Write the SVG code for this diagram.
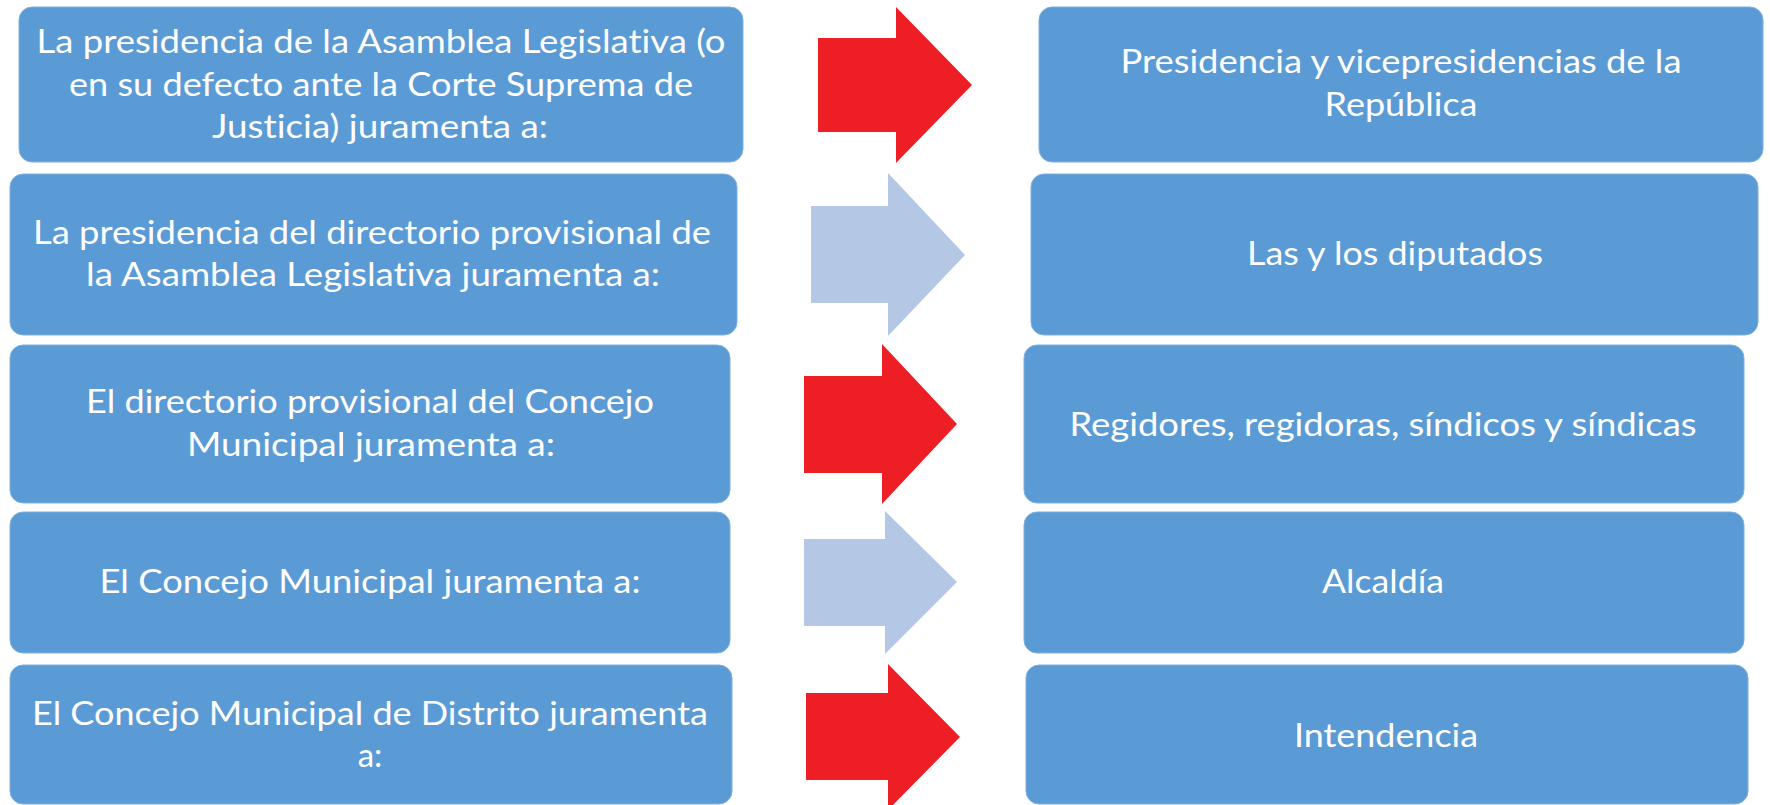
<svg xmlns="http://www.w3.org/2000/svg" width="1770" height="805" viewBox="0 0 1770 805">
<style>
.box{fill:#5B9BD5;stroke:#7FB0DE;stroke-width:1}
.t{font-family:Lato,"Open Sans","Liberation Sans",sans-serif;font-size:33px;fill:#FFFFFF;text-anchor:middle;font-variant-ligatures:none;font-feature-settings:"liga" 0}
.red{fill:#ED1F24}
.light{fill:#B4C8E6}
</style>
<rect width="1770" height="805" fill="#FFFFFF"/>
<g id="connectors">
<polygon class="red" points="818,38 896,38 896,7 972,85 896,163 896,132 818,132"/>
<polygon class="light" points="811,206 888,206 888,173 965,255 888,336 888,303 811,303"/>
<polygon class="red" points="804,376 882,376 882,344 957,424 882,504 882,473 804,473"/>
<polygon class="light" points="804,539 885,539 885,511 957,582 885,654 885,626 804,626"/>
<polygon class="red" points="806,693 888,693 888,664 960,737 888,810 888,780 806,780"/>
</g>
<g id="n1">
<rect class="box" x="19" y="7" width="724" height="155" rx="13"/>
<text class="t" x="381" y="53" textLength="689" lengthAdjust="spacingAndGlyphs">La presidencia de la Asamblea Legislativa (o</text>
<text class="t" x="381" y="96" textLength="624" lengthAdjust="spacingAndGlyphs">en su defecto ante la Corte Suprema de</text>
<text class="t" x="380" y="138" textLength="336" lengthAdjust="spacingAndGlyphs">Justicia) juramenta a:</text>
</g>
<g id="n2">
<rect class="box" x="10" y="174" width="727" height="161" rx="13"/>
<text class="t" x="372" y="244" textLength="678" lengthAdjust="spacingAndGlyphs">La presidencia del directorio provisional de</text>
<text class="t" x="373" y="286" textLength="574" lengthAdjust="spacingAndGlyphs">la Asamblea Legislativa juramenta a:</text>
</g>
<g id="n3">
<rect class="box" x="10" y="345" width="720" height="158" rx="13"/>
<text class="t" x="370" y="413" textLength="568" lengthAdjust="spacingAndGlyphs">El directorio provisional del Concejo</text>
<text class="t" x="371" y="456" textLength="368" lengthAdjust="spacingAndGlyphs">Municipal juramenta a:</text>
</g>
<g id="n4">
<rect class="box" x="10" y="512" width="720" height="141" rx="13"/>
<text class="t" x="370" y="593" textLength="541" lengthAdjust="spacingAndGlyphs">El Concejo Municipal juramenta a:</text>
</g>
<g id="n5">
<rect class="box" x="10" y="665" width="722" height="139" rx="13"/>
<text class="t" x="370" y="725" textLength="676" lengthAdjust="spacingAndGlyphs">El Concejo Municipal de Distrito juramenta</text>
<text class="t" x="370" y="767">a:</text>
</g>
<g id="n6">
<rect class="box" x="1039" y="7" width="724" height="155" rx="13"/>
<text class="t" x="1401" y="73" textLength="561" lengthAdjust="spacingAndGlyphs">Presidencia y vicepresidencias de la</text>
<text class="t" x="1401" y="116" textLength="153" lengthAdjust="spacingAndGlyphs">República</text>
</g>
<g id="n7">
<rect class="box" x="1031" y="174" width="727" height="161" rx="13"/>
<text class="t" x="1395" y="265" textLength="296" lengthAdjust="spacingAndGlyphs">Las y los diputados</text>
</g>
<g id="n8">
<rect class="box" x="1024" y="345" width="720" height="158" rx="13"/>
<text class="t" x="1383" y="436" textLength="627" lengthAdjust="spacingAndGlyphs">Regidores, regidoras, síndicos y síndicas</text>
</g>
<g id="n9">
<rect class="box" x="1024" y="512" width="720" height="141" rx="13"/>
<text class="t" x="1383" y="593" textLength="122" lengthAdjust="spacingAndGlyphs">Alcaldía</text>
</g>
<g id="n10">
<rect class="box" x="1026" y="665" width="722" height="139" rx="13"/>
<text class="t" x="1386" y="747" textLength="184" lengthAdjust="spacingAndGlyphs">Intendencia</text>
</g>
</svg>
